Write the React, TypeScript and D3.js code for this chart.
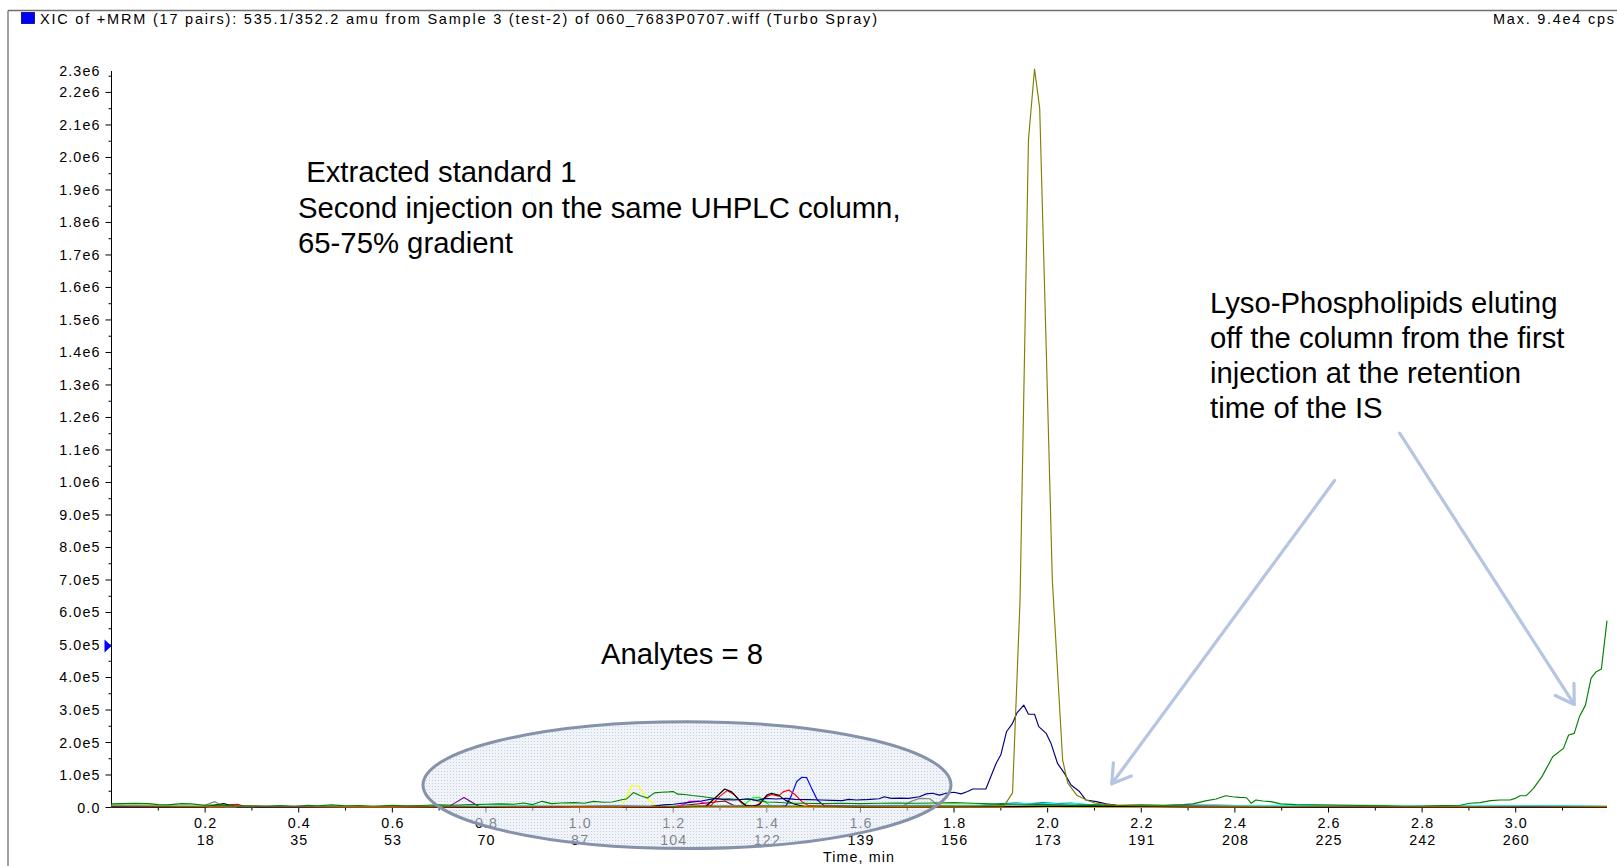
import React from 'react';
import * as d3 from 'd3';

// ---------------- data ----------------
type Pt = [number, number]; // [time (min), intensity (kcps)]

const xTickTimes = [0.2, 0.4, 0.6, 0.8, 1.0, 1.2, 1.4, 1.6, 1.8, 2.0, 2.2, 2.4, 2.6, 2.8, 3.0];
const xTickLabels = ['0.2', '0.4', '0.6', '0.8', '1.0', '1.2', '1.4', '1.6', '1.8', '2.0', '2.2', '2.4', '2.6', '2.8', '3.0'];
const xTickScans = ['18', '35', '53', '70', '87', '104', '122', '139', '156', '173', '191', '208', '225', '242', '260'];
const yTickValues = [0, 100, 200, 300, 400, 500, 600, 700, 800, 900, 1000, 1100, 1200, 1300, 1400, 1500, 1600, 1700, 1800, 1900, 2000, 2100, 2200];
const yTickLabels = ['0.0', '1.0e5', '2.0e5', '3.0e5', '4.0e5', '5.0e5', '6.0e5', '7.0e5', '8.0e5', '9.0e5', '1.0e6', '1.1e6', '1.2e6', '1.3e6', '1.4e6', '1.5e6', '1.6e6', '1.7e6', '1.8e6', '1.9e6', '2.0e6', '2.1e6', '2.2e6'];
const yAxisMax = 2266;
const yAxisMaxLabel = '2.3e6';
const xAxisMax = 3.195;

const greenTrace: Pt[] = [[0,11],[0.02,12],[0.05,13],[0.08,12],[0.1,9],[0.12,8],[0.15,12],[0.17,11],[0.2,7],[0.23,8],[0.26,5],[0.3,5],[0.33,4],[0.36,6],[0.39,4],[0.42,7],[0.44,5],[0.47,8],[0.5,5],[0.53,6],[0.56,4],[0.6,7],[0.63,5],[0.66,6],[0.7,8],[0.73,7],[0.77,9],[0.8,10],[0.83,11],[0.86,10],[0.88,14],[0.9,9],[0.92,19],[0.94,12],[0.96,14],[0.99,15],[1.01,13],[1.03,19],[1.05,16],[1.07,17],[1.09,24],[1.1,26],[1.115,46],[1.13,36],[1.145,29],[1.16,45],[1.175,47],[1.19,48],[1.2,49],[1.21,41],[1.225,40],[1.24,37],[1.26,34],[1.28,30],[1.3,26],[1.32,27],[1.34,24],[1.36,27],[1.38,20],[1.4,17],[1.42,16],[1.45,13],[1.48,13],[1.52,12],[1.56,13],[1.6,12],[1.64,13],[1.68,14],[1.72,13],[1.76,14],[1.8,15],[1.84,13],[1.88,11],[1.91,9],[1.95,8],[2.0,9],[2.05,7],[2.1,8],[2.15,7],[2.2,8],[2.25,7],[2.29,9],[2.31,11],[2.34,21],[2.36,26],[2.38,36],[2.395,33],[2.41,31],[2.425,30],[2.435,13],[2.445,23],[2.46,20],[2.477,18],[2.498,11],[2.53,9],[2.57,8],[2.62,7],[2.67,6],[2.72,5],[2.76,3],[2.8,4],[2.824,5],[2.85,6],[2.881,7],[2.903,13],[2.924,15],[2.946,21],[2.967,23],[2.988,23],[2.999,28],[3.009,36],[3.022,36],[3.038,59],[3.056,95],[3.079,156],[3.102,182],[3.113,223],[3.125,228],[3.136,279],[3.149,315],[3.161,398],[3.172,418],[3.183,426],[3.195,575]];

const oliveTrace: Pt[] = [[0,5],[0.1,4],[0.2,3],[0.35,4],[0.5,3],[0.65,4],[0.8,3],[0.95,4],[1.1,3],[1.25,4],[1.4,3],[1.55,4],[1.7,3],[1.8,4],[1.88,5],[1.907,5],[1.925,45],[1.941,638],[1.959,2054],[1.972,2272],[1.983,2152],[1.997,1410],[2.01,700],[2.032,146],[2.043,75],[2.062,38],[2.083,23],[2.1,14],[2.15,6],[2.3,4],[2.5,3],[2.7,4],[2.9,3],[3.05,4],[3.195,3]];

const navyTrace: Pt[] = [[0,2],[0.2,3],[0.4,2],[0.6,3],[0.8,2],[1.0,3],[1.1,4],[1.15,3],[1.18,8],[1.2,10],[1.231,15],[1.26,20],[1.291,28],[1.31,24],[1.33,23],[1.36,26],[1.38,22],[1.396,28],[1.42,26],[1.441,28],[1.46,25],[1.49,24],[1.516,23],[1.54,22],[1.561,21],[1.575,25],[1.591,23],[1.61,24],[1.621,25],[1.64,27],[1.651,33],[1.666,28],[1.685,29],[1.703,28],[1.726,33],[1.741,42],[1.754,44],[1.769,38],[1.783,44],[1.8,47],[1.815,42],[1.829,49],[1.84,57],[1.854,57],[1.868,57],[1.89,136],[1.9,162],[1.912,233],[1.925,259],[1.934,290],[1.949,315],[1.959,287],[1.972,287],[1.981,249],[1.997,228],[2.007,198],[2.021,136],[2.036,105],[2.05,69],[2.068,49],[2.082,23],[2.104,18],[2.125,11],[2.15,6],[2.2,4],[2.4,3],[2.6,2],[2.8,3],[3.0,2],[3.195,3]];

const yellowTrace: Pt[] = [[0,1],[0.5,1],[1.0,1],[1.09,2],[1.102,40],[1.111,66],[1.126,66],[1.138,40],[1.148,23],[1.16,10],[1.171,4],[1.2,2],[1.6,1],[2.2,1],[3.195,1]];
const purpleTrace: Pt[] = [[0,1],[0.6,1],[0.72,2],[0.735,15],[0.753,31],[0.77,16],[0.785,3],[0.8,1],[1.5,1],[3.195,1]];
const magentaTrace: Pt[] = [[0,1],[1.2,1],[1.22,8],[1.235,19],[1.255,20],[1.27,12],[1.285,2],[1.3,1],[3.195,1]];
const blackTrace: Pt[] = [[0,2],[0.2,2],[0.225,8],[0.24,12],[0.255,6],[0.27,2],[0.5,3],[0.8,2],[1.0,3],[1.2,2],[1.27,4],[1.29,30],[1.31,57],[1.325,48],[1.34,25],[1.355,6],[1.37,4],[1.385,10],[1.4,38],[1.41,44],[1.425,38],[1.44,22],[1.46,10],[1.48,3],[1.6,2],[2.0,3],[2.5,2],[3.195,2]];
const redTrace: Pt[] = [[0,1],[0.24,2],[0.255,9],[0.27,10],[0.285,3],[0.5,2],[0.9,1],[1.2,2],[1.28,5],[1.3,35],[1.315,52],[1.33,40],[1.345,15],[1.36,4],[1.38,6],[1.395,30],[1.41,40],[1.425,35],[1.435,48],[1.447,54],[1.46,40],[1.475,18],[1.49,5],[1.6,2],[2.0,3],[2.17,5],[2.3,2],[3.195,1]];
const limeTrace: Pt[] = [[0,1],[1.34,1],[1.355,12],[1.37,30],[1.385,31],[1.4,14],[1.41,2],[3.195,1]];
const blueTrace: Pt[] = [[0,3],[0.3,2],[0.6,3],[0.9,2],[1.05,4],[1.2,3],[1.35,4],[1.43,4],[1.441,5],[1.452,35],[1.464,80],[1.475,93],[1.485,92],[1.497,55],[1.508,23],[1.523,5],[1.6,4],[1.8,3],[1.95,4],[2.1,6],[2.15,3],[2.2,5],[2.5,2],[2.9,3],[3.195,2]];
const grayTrace: Pt[] = [[0,2],[0.19,2],[0.205,10],[0.221,18],[0.235,6],[0.25,2],[0.6,2],[1.0,2],[1.5,3],[1.69,4],[1.71,20],[1.727,28],[1.748,27],[1.765,8],[1.78,3],[2.1,2],[2.5,2],[3.195,2]];
const cyanTrace: Pt[] = [[0,1],[0.3,2],[0.6,3],[0.9,5],[0.95,3],[1.0,2],[1.4,3],[1.8,4],[1.92,10],[1.95,12],[1.98,9],[2.0,13],[2.03,10],[2.06,12],[2.1,8],[2.15,5],[2.3,3],[2.55,6],[2.6,3],[2.9,5],[3.1,6],[3.195,3]];
const tealTrace: Pt[] = [[0,2],[0.5,3],[1.0,2],[1.5,3],[1.85,5],[1.9,12],[1.93,14],[1.96,11],[1.99,15],[2.02,12],[2.05,14],[2.08,9],[2.12,6],[2.2,4],[2.6,3],[3.195,2]];
const lightGreenTrace: Pt[] = [[0,8],[0.05,9],[0.12,7],[0.4,4],[0.8,4],[1.5,5],[1.9,8],[1.93,14],[1.96,12],[2.0,13],[2.04,10],[2.1,6],[2.5,7],[2.6,8],[2.8,6],[3.195,5]];
const maroonTrace: Pt[] = [[0,2],[0.4,3],[0.8,2],[1.2,3],[1.31,20],[1.33,6],[1.6,2],[2.0,3],[2.4,2],[3.195,2]];
const steelTrace: Pt[] = [[0,1],[2.2,2],[2.28,8],[2.32,10],[2.36,9],[2.4,6],[2.45,2],[3.195,1]];
const tanTrace: Pt[] = [[0,4],[0.06,6],[0.1,5],[0.3,3],[0.8,2],[1.5,2],[2.5,2],[3.195,2]];

const traceColors = ['#c08040', '#a0b4e0', '#800000', '#90d090', '#008080', '#00ffff', '#808080', '#00ff00', '#ff00ff', '#800080', '#ffff00', '#0000ff', '#ff0000', '#000000', '#008000', '#000080', '#808000'];
const traceData = [tanTrace, steelTrace, maroonTrace, lightGreenTrace, tealTrace, cyanTrace, grayTrace, limeTrace, magentaTrace, purpleTrace, yellowTrace, blueTrace, redTrace, blackTrace, greenTrace, navyTrace, oliveTrace];

const titleText = 'XIC of +MRM (17 pairs): 535.1/352.2 amu from Sample 3 (test-2) of 060_7683P0707.wiff (Turbo Spray)';
const maxText = 'Max. 9.4e4 cps';
const noteLeft = [' Extracted standard 1', 'Second injection on the same UHPLC column,', '65-75% gradient'];
const noteRight = ['Lyso-Phospholipids eluting', 'off the column from the first', 'injection at the retention', 'time of the IS'];
const noteAnalytes = 'Analytes = 8';

// annotation anchors in data coordinates [time, kcps]
const ellipseCenter: Pt = [1.2295, 69];
const ellipseRadii: Pt = [0.564, 195];
const arrows: [Pt, Pt][] = [
  [[2.613, 1006], [2.137, 73]],
  [[2.752, 1152], [3.125, 317]],
];

// ---------------- layout ----------------
const W = 1617;
const H = 866;
const X0 = 111.5, X1 = 1607;
const Y0 = 807.5, Y1 = 71;
const FONT = '"Liberation Sans", Arial, sans-serif';

export default function App() {
  const x = d3.scaleLinear().domain([0, xAxisMax]).range([X0, X1]);
  const y = d3.scaleLinear().domain([0, yAxisMax]).range([Y0, Y1]);
  const line = d3.line<Pt>().x((d) => x(d[0])).y((d) => y(d[1]));

  const minorY: number[] = [];
  for (let v = 50; v < yAxisMax; v += 100) minorY.push(v);
  const minorX: number[] = [];
  for (let t = 0.1; t < xAxisMax; t += 0.2) minorX.push(t);

  const arrowEls = arrows.map(([s, e], i) => {
    const sx = x(s[0]), sy = y(s[1]), ex = x(e[0]), ey = y(e[1]);
    const ang = Math.atan2(sy - ey, sx - ex);
    const L = 21, a = (32 * Math.PI) / 180;
    const b1 = [ex + L * Math.cos(ang + a), ey + L * Math.sin(ang + a)];
    const b2 = [ex + L * Math.cos(ang - a), ey + L * Math.sin(ang - a)];
    return (
      <g key={i} stroke="#b4c6e2" strokeWidth={3.2} fill="none" strokeLinecap="round" strokeLinejoin="round">
        <line x1={sx} y1={sy} x2={ex} y2={ey} />
        <path d={`M${b1[0]},${b1[1]}L${ex},${ey}L${b2[0]},${b2[1]}`} />
      </g>
    );
  });

  const ecx = x(ellipseCenter[0]);
  const ecy = y(ellipseCenter[1]);
  const erx = x(ellipseCenter[0] + ellipseRadii[0]) - ecx;
  const ery = y(0) - y(ellipseRadii[1]);

  return (
    <svg width={W} height={H} style={{ position: 'absolute', left: 0, top: 0, display: 'block', background: '#fff' }} fontFamily={FONT}>
      <defs>
        <pattern id="dots" width="3" height="3" patternUnits="userSpaceOnUse">
          <rect width="3" height="3" fill="#e4eaf4" fillOpacity={0.55} />
          <rect width="1" height="1" fill="#a9b7d1" fillOpacity={0.6} />
        </pattern>
      </defs>
      {/* frame */}
      <line x1={8} y1={10.5} x2={W} y2={10.5} stroke="#707070" strokeWidth={1.3} />
      <line x1={8} y1={10.5} x2={8} y2={H} stroke="#707070" strokeWidth={1.3} />
      <rect x={21.5} y={12.5} width={13} height={11} fill="#0000ff" stroke="#00006a" strokeWidth={0.8} />
      <text x={40} y={23.5} fontSize={14.5} textLength={837} lengthAdjust="spacing" fill="#000">{titleText}</text>
      <text x={1614} y={23.5} fontSize={14.5} textAnchor="end" textLength={121} lengthAdjust="spacing" fill="#000">{maxText}</text>

      {/* axes */}
      <line x1={X0} y1={Y1} x2={X0} y2={Y0} stroke="#000" strokeWidth={1} />
      {yTickValues.map((v, i) => (
        <g key={'yt' + i}>
          <line x1={X0 - 6} x2={X0} y1={y(v)} y2={y(v)} stroke="#000" />
          <text x={X0 - 11} y={y(v)} dy="0.35em" textAnchor="end" fontSize={14.3} letterSpacing={1.1} fill="#000">{yTickLabels[i]}</text>
        </g>
      ))}
      {minorY.map((v, i) => (
        <line key={'ym' + i} x1={X0 - 3} x2={X0} y1={y(v)} y2={y(v)} stroke="#000" />
      ))}
      <text x={X0 - 11} y={y(yAxisMax)} dy="0.35em" textAnchor="end" fontSize={14.3} letterSpacing={1.1} fill="#000">{yAxisMaxLabel}</text>
      <path d={`M${X0 - 7},${y(497) - 6.5}L${X0},${y(497)}L${X0 - 7},${y(497) + 6.5}Z`} fill="#0000ff" />

      {xTickTimes.map((t, i) => (
        <g key={'xt' + i}>
          <line x1={x(t)} x2={x(t)} y1={Y0} y2={Y0 + 5} stroke="#000" />
          <text x={x(t) + 0.6} y={828} textAnchor="middle" fontSize={14.3} letterSpacing={1.1} fill="#000">{xTickLabels[i]}</text>
          <text x={x(t) + 0.6} y={845} textAnchor="middle" fontSize={14.3} letterSpacing={1.1} fill="#000">{xTickScans[i]}</text>
        </g>
      ))}
      {minorX.map((t, i) => (
        <line key={'xm' + i} x1={x(t)} x2={x(t)} y1={Y0} y2={Y0 + 3} stroke="#000" />
      ))}
      <text x={859} y={862} textAnchor="middle" fontSize={14.3} letterSpacing={1.1} fill="#000">Time, min</text>

      {/* ellipse fill (under traces, over labels) */}
      <ellipse cx={ecx} cy={ecy} rx={erx} ry={ery} fill="url(#dots)" stroke="none" />

      {/* traces */}
      <line x1={X0} y1={Y0} x2={X1} y2={Y0} stroke="#000" strokeWidth={1} />
      <g fill="none" strokeWidth={1.15} strokeLinejoin="round">
        {traceData.map((d, i) => (
          <path key={i} d={line(d) || ''} stroke={traceColors[i]} />
        ))}
      </g>

      {/* ellipse outline */}
      <ellipse cx={ecx} cy={ecy} rx={erx} ry={ery} fill="none" stroke="#8592a9" strokeWidth={3} />

      {/* arrows */}
      {arrowEls}

      {/* annotations */}
      <g fontSize={29.3} fill="#000" style={{ whiteSpace: 'pre' }}>
        <text x={298} y={182} xmlSpace="preserve">{noteLeft[0]}</text>
        <text x={298} y={217.5}>{noteLeft[1]}</text>
        <text x={298} y={253}>{noteLeft[2]}</text>
        {noteRight.map((s, i) => (
          <text key={i} x={1210} y={312.5 + i * 35} >{s}</text>
        ))}
        <text x={601} y={664}>{noteAnalytes}</text>
      </g>
    </svg>
  );
}
